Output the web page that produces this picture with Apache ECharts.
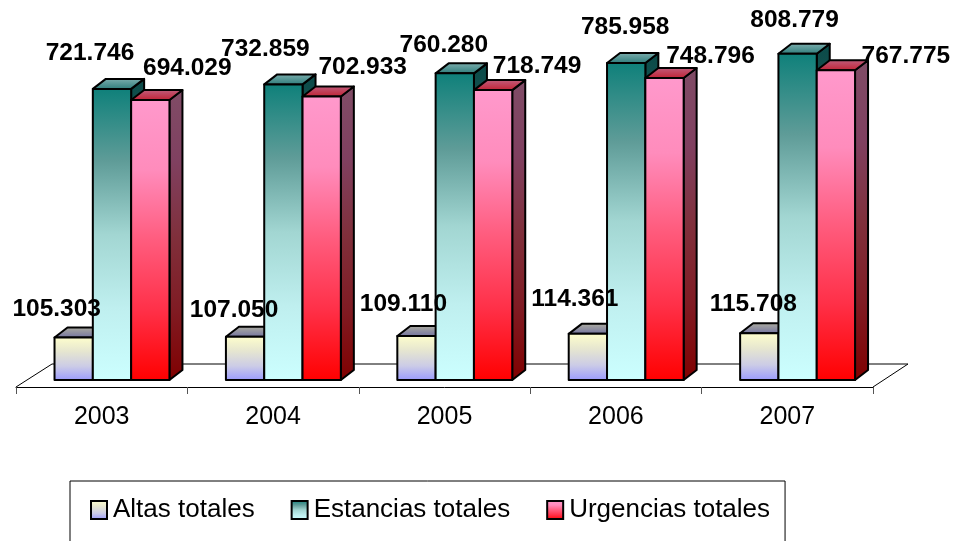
<!DOCTYPE html>
<html>
<head>
<meta charset="utf-8">
<script src="https://cdn.jsdelivr.net/npm/echarts@6/dist/echarts.min.js"></script>
<style>
html, body { margin: 0; padding: 0; background: #fff; }
#chart { width: 954px; height: 541px; }
</style>
</head>
<body>
<div id="chart"></div>
<script>
var years = ['2003', '2004', '2005', '2006', '2007'];
var altas = [105303, 107050, 109110, 114361, 115708];
var estancias = [721746, 732859, 760280, 785958, 808779];
var urgencias = [694029, 702933, 718749, 748796, 767775];

// where each value label sits, relative to the top centre of its bar
var altasLabelDx = [-17, -11, -13, -13, -6];
var altasLabelDy = [-28, -27, -32, -35, -29];
var estanciasLabelDx = [-22, -18, -11, -1, -3];
var estanciasLabelDy = [-36, -35, -28, -36, -34];
var urgenciasLabelDx = [37, 41, 44, 46, 70];
var urgenciasLabelDy = [-32, -29, -24, -22, -14];

var FONT = '"Liberation Sans", Arial, sans-serif';
var DEPTH_X = 13, DEPTH_Y = 10;

function grad(stops) {
	var n = stops.length - 1;
	return {
		type: 'linear', x: 0, y: 0, x2: 0, y2: 1,
		colorStops: stops.map(function (c, i) { return { offset: i / n, color: c }; })
	};
}
function fmt(v) {
	return String(v).replace(/\B(?=(\d{3})+$)/g, '.');
}
function poly(points, fill) {
	return { type: 'polygon', shape: { points: points }, style: { fill: fill, stroke: '#000', lineWidth: 2, lineJoin: 'round' } };
}

function barRenderer(slot, front, side, top, dxs, dys) {
	return function (params, api) {
		var i = api.value(0);
		var base = api.coord([i, 0]);
		var head = api.coord([i, api.value(1)]);
		var band = api.size([1, 0])[0];
		var w = band * 0.2235;
		var x0 = base[0] + band * 0.06 + (slot - 1.5) * w;
		var x1 = x0 + w;
		var y0 = head[1], y1 = base[1];
		return {
			type: 'group',
			children: [
				poly([[x1, y0], [x1 + DEPTH_X, y0 - DEPTH_Y], [x1 + DEPTH_X, y1 - DEPTH_Y], [x1, y1]], side),
				poly([[x0, y0], [x0 + DEPTH_X, y0 - DEPTH_Y], [x1 + DEPTH_X, y0 - DEPTH_Y], [x1, y0]], top),
				poly([[x0, y0], [x1, y0], [x1, y1], [x0, y1]], front),
				{
					type: 'text',
					z2: 100,
					style: {
						x: (x0 + x1) / 2 + dxs[i],
						y: y0 + dys[i],
						text: fmt(api.value(1)),
						font: 'bold 24.5px ' + FONT,
						fill: '#000',
						align: 'center',
						verticalAlign: 'middle'
					}
				}
			]
		};
	};
}

// floor of the 3d plot, goes behind the bars
function floorRenderer(params, api) {
	var s = params.coordSys;
	var fy = s.y + s.height + 7, by = s.y + s.height - 16;
	var l = { stroke: '#000', lineWidth: 1 };
	return {
		type: 'group',
		children: [
			{ type: 'line', shape: { x1: s.x, y1: fy, x2: s.x + 36, y2: by }, style: l },
			{ type: 'line', shape: { x1: s.x + 36, y1: by, x2: s.x + s.width + 35, y2: by }, style: l },
			{ type: 'line', shape: { x1: s.x + s.width, y1: fy, x2: s.x + s.width + 35, y2: by }, style: l }
		]
	};
}

function pairs(values) {
	return values.map(function (v, i) { return [i, v]; });
}

var altasFront = grad(['#FFFFCC', '#E6E6D0', '#CCCCE6', '#9999FF']);
var estanciasFront = grad(['#0E807A', '#5F9C98', '#A2D6D2', '#BFEFEF', '#CCFFFF']);
var urgenciasFront = grad(['#FF99CC', '#FF8CBC', '#FF5C7E', '#FF3048', '#FF0000']);

var myChart = echarts.init(document.getElementById('chart'), null, { renderer: 'canvas' });
var option = {
	animation: false,
	backgroundColor: '#fff',
	grid: { left: 16, width: 857, top: 17, height: 363, containLabel: false },
	xAxis: {
		type: 'category',
		data: years,
		offset: 7,
		axisLine: { onZero: false, lineStyle: { color: '#000', width: 1 } },
		axisTick: { show: true, length: 7, alignWithLabel: false, lineStyle: { color: '#555' } },
		axisLabel: { color: '#000', fontFamily: FONT, fontSize: 25, margin: 18 }
	},
	yAxis: { type: 'value', min: 0, max: 900000, show: false },
	legend: {
		left: 70,
		top: 481,
		orient: 'horizontal',
		padding: [16, 15, 40, 20],
		itemGap: 36,
		itemWidth: 16,
		itemHeight: 18,
		itemStyle: { borderColor: '#000', borderWidth: 2 },
		borderColor: '#000',
		borderWidth: 1,
		icon: 'rect',
		textStyle: { color: '#000', fontFamily: FONT, fontSize: 26, padding: [0, 0, 6, 1] },
		data: [
			{ name: 'Altas totales', itemStyle: { color: altasFront } },
			{ name: 'Estancias totales', itemStyle: { color: estanciasFront } },
			{ name: 'Urgencias totales', itemStyle: { color: urgenciasFront } }
		]
	},
	series: [
		{ type: 'custom', silent: true, legendHoverLink: false, renderItem: floorRenderer, data: [[0, 0]], clip: false },
		{
			name: 'Altas totales', type: 'custom', clip: false, data: pairs(altas),
			itemStyle: { color: '#FFFFCC' },
			renderItem: barRenderer(0, altasFront, grad(['#555580', '#4d4d80']), grad(['#b0b0a0', '#7070a0']), altasLabelDx, altasLabelDy)
		},
		{
			name: 'Estancias totales', type: 'custom', clip: false, data: pairs(estancias),
			itemStyle: { color: '#008080' },
			renderItem: barRenderer(1, estanciasFront, grad(['#0A4A48', '#668080']), grad(['#80B0B0', '#2A7A78']), estanciasLabelDx, estanciasLabelDy)
		},
		{
			name: 'Urgencias totales', type: 'custom', clip: false, data: pairs(urgencias),
			itemStyle: { color: '#FF0000' },
			renderItem: barRenderer(2, urgenciasFront, grad(['#804C66', '#804060', '#80303C', '#801C24', '#800000']), grad(['#C06080', '#C01F30']), urgenciasLabelDx, urgenciasLabelDy)
		}
	]
};
myChart.setOption(option);
</script>
</body>
</html>
